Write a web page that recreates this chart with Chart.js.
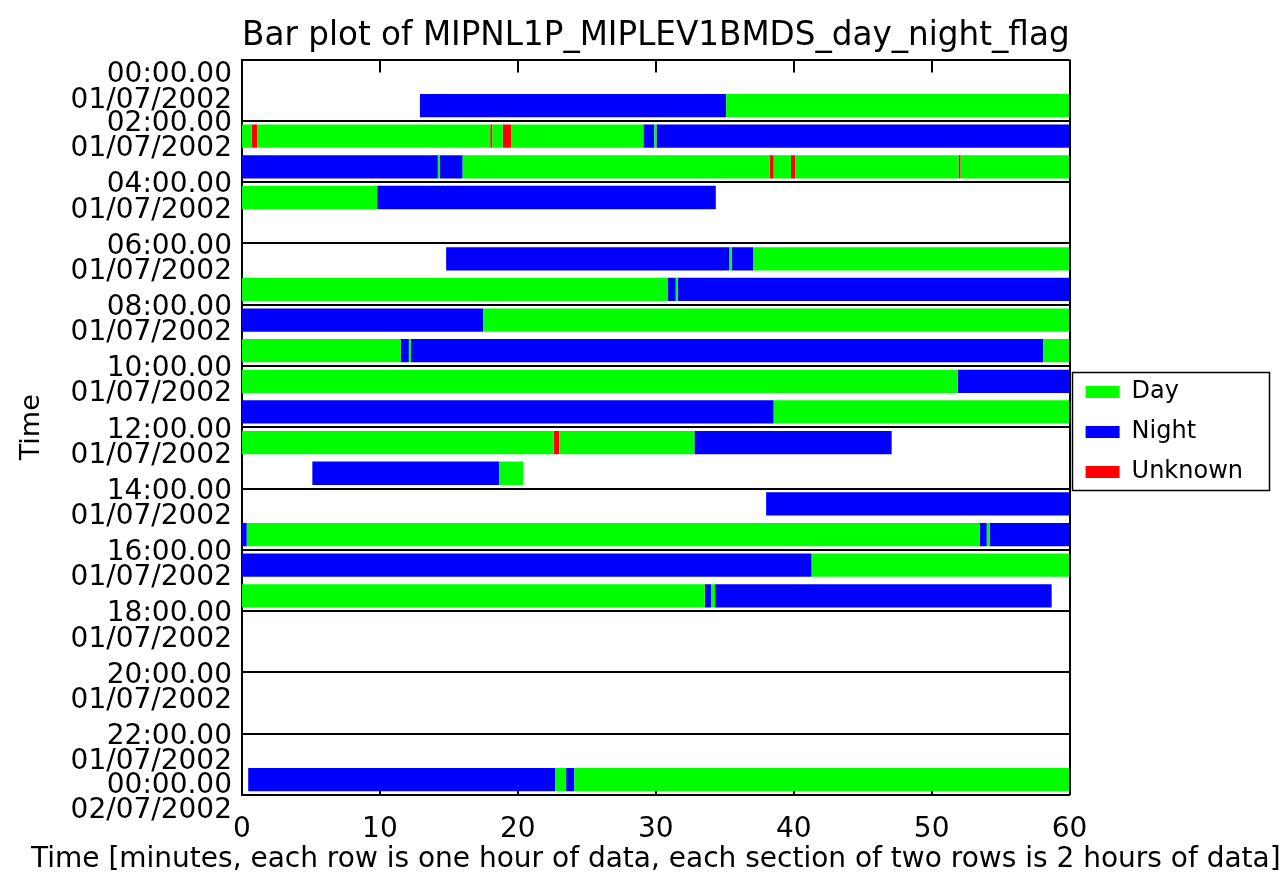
<!DOCTYPE html>
<html>
<head>
<meta charset="utf-8">
<script src="https://cdn.jsdelivr.net/npm/chart.js@4.4.0/dist/chart.umd.min.js"></script>
<style>
  html, body { margin: 0; padding: 0; background: #ffffff; }
  #wrap { width: 1284px; height: 877px; }
</style>
</head>
<body>
<div id="wrap"><canvas id="c" width="1284" height="877"></canvas></div>
<script>
// ---- data ----
const flagNames = ['Day', 'Night', 'Unknown'];
const timeLabels = ['00:00.00','02:00.00','04:00.00','06:00.00','08:00.00','10:00.00','12:00.00',
                    '14:00.00','16:00.00','18:00.00','20:00.00','22:00.00','00:00.00'];
const dateLabels = ['01/07/2002','01/07/2002','01/07/2002','01/07/2002','01/07/2002','01/07/2002',
                    '01/07/2002','01/07/2002','01/07/2002','01/07/2002','01/07/2002','01/07/2002','02/07/2002'];
const xTickValues = [0, 10, 20, 30, 40, 50, 60];
const chartTitle = 'Bar plot of MIPNL1P_MIPLEV1BMDS_day_night_flag';
const xTitleText = 'Time [minutes, each row is one hour of data, each section of two rows is 2 hours of data]';
const yTitleText = 'Time';

// one array per hour row: [start minute, end minute, flag]
const hour01 = [[12.9, 35.1, 'Night'], [35.1, 60, 'Day']];
const hour02 = [[0, 0.7, 'Day'], [0.7, 1.1, 'Unknown'], [1.1, 18.0, 'Day'], [18.0, 18.15, 'Unknown'],
                [18.15, 18.9, 'Day'], [18.9, 19.5, 'Unknown'], [19.5, 29.1, 'Day'], [29.1, 29.9, 'Night'],
                [29.9, 30.05, 'Day'], [30.05, 60, 'Night']];
const hour03 = [[0, 14.2, 'Night'], [14.2, 14.35, 'Day'], [14.35, 16.0, 'Night'], [16.0, 38.25, 'Day'],
                [38.25, 38.55, 'Unknown'], [38.55, 39.8, 'Day'], [39.8, 40.1, 'Unknown'], [40.1, 51.95, 'Day'],
                [51.95, 52.1, 'Unknown'], [52.1, 60, 'Day']];
const hour04 = [[0, 9.8, 'Day'], [9.8, 34.35, 'Night']];
const hour06 = [[14.8, 35.35, 'Night'], [35.35, 35.5, 'Day'], [35.5, 37.05, 'Night'], [37.05, 60, 'Day']];
const hour07 = [[0, 30.85, 'Day'], [30.85, 31.45, 'Night'], [31.45, 31.6, 'Day'], [31.6, 60, 'Night']];
const hour08 = [[0, 17.5, 'Night'], [17.5, 60, 'Day']];
const hour09 = [[0, 11.5, 'Day'], [11.5, 12.1, 'Night'], [12.1, 12.25, 'Day'], [12.25, 58.1, 'Night'], [58.1, 60, 'Day']];
const hour10 = [[0, 51.9, 'Day'], [51.9, 60, 'Night']];
const hour11 = [[0, 38.55, 'Night'], [38.55, 60, 'Day']];
const hour12 = [[0, 22.6, 'Day'], [22.6, 23.0, 'Unknown'], [23.0, 32.8, 'Day'], [32.8, 47.1, 'Night']];
const hour13 = [[5.1, 18.65, 'Night'], [18.65, 20.4, 'Day']];
const hour14 = [[38.0, 60, 'Night']];
const hour15 = [[0, 0.35, 'Night'], [0.35, 53.5, 'Day'], [53.5, 54.0, 'Night'], [54.0, 54.2, 'Day'], [54.2, 60, 'Night']];
const hour16 = [[0, 41.3, 'Night'], [41.3, 60, 'Day']];
const hour17 = [[0, 33.55, 'Day'], [33.55, 34.0, 'Night'], [34.0, 34.3, 'Day'], [34.3, 58.7, 'Night']];
const hour23 = [[0.45, 22.7, 'Night'], [22.7, 23.5, 'Day'], [23.5, 24.1, 'Night'], [24.1, 60, 'Day']];

const hourRows = [[1, hour01], [2, hour02], [3, hour03], [4, hour04], [6, hour06], [7, hour07], [8, hour08],
                  [9, hour09], [10, hour10], [11, hour11], [12, hour12], [13, hour13], [14, hour14],
                  [15, hour15], [16, hour16], [17, hour17], [23, hour23]];

// ---- styles ----
const flagColors = { Day: '#00ff00', Night: '#0000ff', Unknown: '#ff0000' };
Chart.defaults.font.family = 'DejaVu Sans';
Chart.defaults.color = '#000000';

function segmentsFor(flag) {
  const out = [];
  for (const [hour, segs] of hourRows) {
    for (const [s, e, f] of segs) {
      if (f === flag) out.push({ x: [s, e], y: hour + 0.5 });
    }
  }
  return out;
}

const datasets = flagNames.map(name => ({
  label: name,
  data: segmentsFor(name),
  backgroundColor: flagColors[name],
  borderWidth: 0,
  grouped: false,
  categoryPercentage: 1,
  barPercentage: 0.76
}));

const framePlugin = {
  id: 'frame',
  beforeDatasetsDraw(chart) {
    const { ctx, chartArea: a, scales: { x } } = chart;
    ctx.save();
    ctx.strokeStyle = '#000';
    ctx.lineWidth = 2;
    ctx.beginPath();
    for (const t of x.ticks) {
      const px = Math.round(x.getPixelForValue(t.value));
      if (px <= a.left + 2 || px >= a.right - 2) continue;
      ctx.moveTo(px, a.top); ctx.lineTo(px, a.top + 13);
      ctx.moveTo(px, a.bottom); ctx.lineTo(px, a.bottom - 13);
    }
    ctx.stroke();
    ctx.restore();
  },
  afterDraw(chart) {
    const { ctx, chartArea: a, legend } = chart;
    ctx.save();
    ctx.strokeStyle = '#000';
    ctx.lineWidth = 2;
    ctx.beginPath();
    ctx.moveTo(Math.round(a.right), a.top);
    ctx.lineTo(Math.round(a.right), a.bottom);
    ctx.stroke();
    const hb = legend.legendHitBoxes;
    if (hb && hb.length) {
      let maxR = 0;
      for (const h of hb) maxR = Math.max(maxR, h.left + h.width);
      const x1 = Math.round(a.right) + 2;
      const x2 = Math.round(maxR + 26);
      const y1 = Math.round(hb[0].top - 8);
      const y2 = Math.round(hb[hb.length - 1].top + hb[hb.length - 1].height + 6);
      ctx.lineWidth = 1.5;
      ctx.strokeRect(x1 + 0.5, y1 + 0.5, x2 - x1, y2 - y1);
    }
    // x-axis title: wider than the plot area in the reference, so drawn centred under it
    ctx.fillStyle = '#000';
    ctx.font = '28px "DejaVu Sans"';
    ctx.textAlign = 'center';
    ctx.textBaseline = 'middle';
    ctx.fillText(xTitleText, (a.left + a.right) / 2, 860);
    ctx.restore();
  }
};

new Chart(document.getElementById('c'), {
  type: 'bar',
  data: { datasets },
  options: {
    indexAxis: 'y',
    responsive: false,
    animation: false,
    devicePixelRatio: 1,
    layout: { padding: { top: 0, left: 0, right: 31, bottom: 0 } },
    plugins: {
      title: {
        display: true,
        text: chartTitle,
        fullSize: false,
        font: { size: 33, weight: 'normal' },
        color: '#000',
        padding: { top: 17, bottom: 3 }
      },
      legend: {
        position: 'right',
        fullSize: false,
        align: 'center',
        title: { display: true, text: '', font: { size: 8 }, padding: 0 },
        labels: { boxWidth: 34, boxHeight: 12, padding: 16, font: { size: 24 }, color: '#000' }
      },
      tooltip: { enabled: false }
    },
    scales: {
      x: {
        type: 'linear',
        position: 'bottom',
        min: 0, max: 60,
        afterBuildTicks(scale) { scale.ticks = xTickValues.map(v => ({ value: v })); },
        ticks: { font: { size: 28, lineHeight: 1.2 }, padding: 18, maxRotation: 0, color: '#000' },
        grid: { display: false, drawTicks: false },
        border: { display: true, color: '#000', width: 2 },
        title: { display: false },
        afterFit(scale) { scale.height = 82; }
      },
      y: {
        type: 'linear',
        reverse: true,
        offset: false,
        min: 0, max: 24,
        afterBuildTicks(scale) { scale.ticks = timeLabels.map((t, i) => ({ value: i * 2 })); },
        ticks: {
          autoSkip: false,
          padding: 10,
          labelOffset: 3,
          color: '#000',
          font: { size: 28, lineHeight: 0.9 },
          callback(value) {
            const i = Math.round(value / 2);
            if (i === 0) return ['', '', timeLabels[i], dateLabels[i]];
            if (i === timeLabels.length - 1) return [timeLabels[i], dateLabels[i]];
            return ['', timeLabels[i], dateLabels[i]];
          }
        },
        grid: { offset: false, color: '#000', lineWidth: 2, drawTicks: false },
        border: { display: true, color: '#000', width: 2 },
        title: {
          display: true,
          text: yTitleText,
          font: { size: 27 },
          color: '#000',
          padding: { top: 16, bottom: 16 }
        },
        afterFit(scale) {
          scale.width = 242;
          scale.paddingTop = 0;
          scale.paddingBottom = 0;
        }
      }
    }
  },
  plugins: [framePlugin]
});
</script>
</body>
</html>
